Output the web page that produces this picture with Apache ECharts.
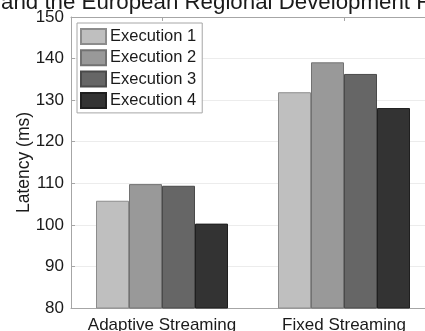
<!DOCTYPE html>
<html>
<head>
<meta charset="utf-8">
<script src="https://cdn.jsdelivr.net/npm/echarts@6/dist/echarts.min.js"></script>
<style>
  html, body { margin: 0; padding: 0; background: #fff; }
  #chart { width: 425px; height: 331px; }
</style>
</head>
<body>
<div id="chart"></div>
<script>
// Latency per streaming mode, four executions each
const categories = ['Adaptive Streaming', 'Fixed Streaming'];
const seriesNames = ['Execution 1', 'Execution 2', 'Execution 3', 'Execution 4'];
const execution1 = [105.8, 131.9];
const execution2 = [109.8, 139.1];
const execution3 = [109.4, 136.3];
const execution4 = [100.3, 128.1];
const yTicks = [80, 90, 100, 110, 120, 130, 140, 150];
const captionText = 'and the European Regional Development Fund';

const fills = ['#bfbfbf', '#999999', '#666666', '#333333'];
const borders = ['#8c8c8c', '#727272', '#4a4a4a', '#1f1f1f'];
const values = [execution1, execution2, execution3, execution4];

const font = '"Liberation Sans", Arial, Helvetica, sans-serif';
const chart = echarts.init(document.getElementById('chart'), null, { renderer: 'canvas' });

chart.setOption({
  animation: false,
  backgroundColor: '#ffffff',
  textStyle: { fontFamily: font },
  graphic: [{
    type: 'text',
    left: 1,
    top: -8,
    style: { text: captionText, font: '22.3px ' + font, fill: '#1a1a1a' }
  }],
  grid: {
    left: 71, top: 17, width: 364, height: 291,
    containLabel: false,
    outerBoundsMode: 'none'
  },
  legend: {
    orient: 'vertical',
    left: 77,
    top: 23,
    data: seriesNames,
    itemWidth: 25,
    itemHeight: 15,
    itemGap: 4.3,
    padding: [5, 6, 4, 3],
    backgroundColor: '#ffffff',
    borderColor: '#a6a6a6',
    borderWidth: 1,
    borderRadius: 0,
    icon: 'rect',
    textStyle: { fontSize: 16.5, color: '#1a1a1a', fontFamily: font, padding: [0, 0, 0, -1] }
  },
  xAxis: [{
    type: 'category',
    data: categories,
    position: 'bottom',
    axisLine: { lineStyle: { color: '#a6a6a6', width: 1 } },
    axisTick: { show: false },
    axisLabel: { interval: 0, hideOverlap: false, fontSize: 17, color: '#1a1a1a', margin: 9, fontFamily: font }
  }, {
    type: 'category',
    data: categories,
    position: 'top',
    axisLine: { lineStyle: { color: '#a6a6a6', width: 1 } },
    axisTick: { show: true, inside: true, length: 4, alignWithLabel: true, lineStyle: { color: '#a6a6a6' } },
    axisLabel: { show: false }
  }],
  yAxis: {
    type: 'value',
    min: yTicks[0],
    max: yTicks[yTicks.length - 1],
    interval: 10,
    name: 'Latency (ms)',
    nameLocation: 'middle',
    nameGap: 38,
    nameMoveOverlap: false,
    nameTextStyle: { fontSize: 17.5, color: '#1a1a1a', fontFamily: font },
    axisLine: { show: true, lineStyle: { color: '#a6a6a6', width: 1 } },
    axisTick: { show: true, inside: true, length: 4, lineStyle: { color: '#a6a6a6' } },
    axisLabel: { fontSize: 17, color: '#1a1a1a', margin: 7, fontFamily: font },
    splitLine: { show: true, lineStyle: { color: '#ececec', width: 1 } }
  },
  series: seriesNames.map((name, i) => ({
    name: name,
    type: 'bar',
    xAxisIndex: 0,
    data: values[i],
    barWidth: 33,
    barGap: '0%',
    itemStyle: { color: fills[i], borderColor: borders[i], borderWidth: 1 }
  }))
});
</script>
</body>
</html>
